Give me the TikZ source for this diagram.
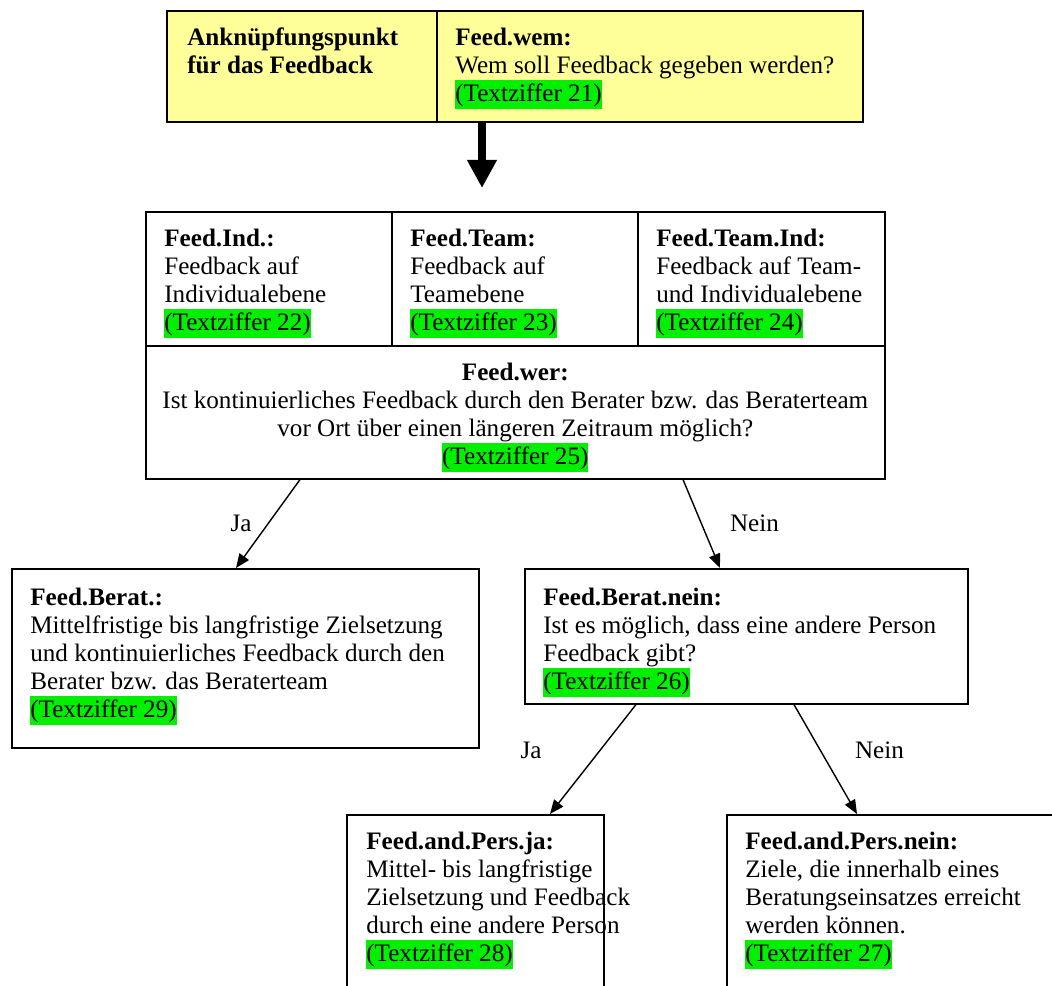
\documentclass[tikz,border=0pt]{standalone}
\usepackage{fontspec}
\setmainfont{Liberation Serif}
\usetikzlibrary{arrows.meta,positioning}
\definecolor{ankergelb}{HTML}{FFFF99}
\definecolor{tzgruen}{HTML}{00F000}
\newcommand{\pxu}{0.02cm}
\newcommand{\tzf}[1]{{\setlength{\fboxsep}{0pt}\colorbox{tzgruen}{\rule[-4.4pt]{0pt}{16.6pt}(Textziffer #1)}}}
\tikzset{
  box/.style={draw,line width=0.9pt,inner sep=0pt,anchor=north west},
  txt/.style={anchor=north west,yshift=11.2pt,align=left,inner sep=0pt,
    font=\fontsize{14.3}{16}\selectfont,execute at begin node=\strut},
  ctxt/.style={txt,anchor=north,align=center},
  lbl/.style={inner sep=0pt,font=\fontsize{14.3}{16}\selectfont},
  pfeil/.style={-{Triangle[length=8pt,width=6.5pt]},line width=0.8pt},
  dickpfeil/.style={-{Triangle[length=16pt,width=16pt]},line width=5pt},
}
\begin{document}
\begin{tikzpicture}[x=\pxu,y=-\pxu]
\useasboundingbox (0,0) rectangle (1052,986);
\clip (0,0) rectangle (1052,986);

\node[box,fill=ankergelb,minimum width=270*\pxu,minimum height=111*\pxu] (ankL) at (166,10) {};
\node[box,fill=ankergelb,minimum width=426*\pxu,minimum height=111*\pxu] (ankR) at (436,10) {};
\node[box,minimum width=246*\pxu,minimum height=134*\pxu] (ind) at (145,211) {};
\node[box,minimum width=246*\pxu,minimum height=134*\pxu] (team) at (391,211) {};
\node[box,minimum width=247*\pxu,minimum height=134*\pxu] (teamind) at (637,211) {};
\node[box,minimum width=739*\pxu,minimum height=133*\pxu] (wer) at (145,345) {};
\node[box,minimum width=467*\pxu,minimum height=179*\pxu] (berat) at (11,568) {};
\node[box,minimum width=443*\pxu,minimum height=135*\pxu] (beratnein) at (524,568) {};
\node[box,minimum width=257*\pxu,minimum height=200*\pxu] (persja) at (346,814) {};
\node[box,minimum width=400*\pxu,minimum height=200*\pxu] (persnein) at (726,814) {};

\node[txt] (ankL-t) at ([shift={(21,37)}]ankL.north west) {\textbf{Anknüpfungspunkt}\\\textbf{für das Feedback}};
\node[txt] (ankR-t) at ([shift={(19,37)}]ankR.north west) {\textbf{Feed.wem:}\\Wem soll Feedback gegeben werden?\\\tzf{21}};
\node[txt] (ind-t) at ([shift={(19,37)}]ind.north west) {\textbf{Feed.Ind.:}\\Feedback auf\\Individualebene\\\tzf{22}};
\node[txt] (team-t) at ([shift={(19,37)}]team.north west) {\textbf{Feed.Team:}\\Feedback auf\\Teamebene\\\tzf{23}};
\node[txt] (teamind-t) at ([shift={(19,37)}]teamind.north west) {\textbf{Feed.Team.Ind:}\\Feedback auf Team-\\und Individualebene\\\tzf{24}};
\node[ctxt] (wer-t) at ([shift={(0,37)}]wer.north) {\textbf{Feed.wer:}\\Ist kontinuierliches Feedback durch den Berater bzw. das Beraterteam\\vor Ort über einen längeren Zeitraum möglich?\\\tzf{25}};
\node[txt] (berat-t) at ([shift={(19,39)}]berat.north west) {\textbf{Feed.Berat.:}\\Mittelfristige bis langfristige Zielsetzung\\und kontinuierliches Feedback durch den\\Berater bzw. das Beraterteam\\\tzf{29}};
\node[txt] (beratnein-t) at ([shift={(19,39)}]beratnein.north west) {\textbf{Feed.Berat.nein:}\\Ist es möglich, dass eine andere Person\\Feedback gibt?\\\tzf{26}};
\node[txt] (persja-t) at ([shift={(20,37)}]persja.north west) {\textbf{Feed.and.Pers.ja:}\\Mittel- bis langfristige\\Zielsetzung und Feedback\\durch eine andere Person\\\tzf{28}};
\node[txt] (persnein-t) at ([shift={(19,37)}]persnein.north west) {\textbf{Feed.and.Pers.nein:}\\Ziele, die innerhalb eines\\Beratungseinsatzes erreicht\\werden können.\\\tzf{27}};

\coordinate (pfeilende) at (482,188);
\draw[dickpfeil] (ankR.south west -| pfeilende) -- (pfeilende);
\draw[pfeil] ([xshift=155*\pxu]wer.south west) -- ([xshift=225*\pxu]berat.north west)
  node[lbl,midway,xshift=-27*\pxu] (ja1) {Ja};
\draw[pfeil] ([xshift=538*\pxu]wer.south west) -- ([xshift=196*\pxu]beratnein.north west)
  node[lbl,midway,xshift=53*\pxu] (nein1) {Nein};
\draw[pfeil] ([xshift=112*\pxu]beratnein.south west) -- ([xshift=204*\pxu]persja.north west)
  node[lbl,midway,xshift=-62*\pxu,yshift=9*\pxu] (ja2) {Ja};
\draw[pfeil] ([xshift=270*\pxu]beratnein.south west) -- ([xshift=131*\pxu]persnein.north west)
  node[lbl,midway,xshift=54*\pxu,yshift=9*\pxu] (nein2) {Nein};
\end{tikzpicture}
\end{document}
